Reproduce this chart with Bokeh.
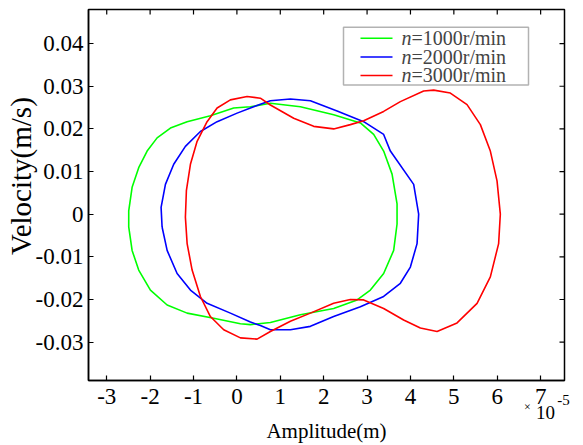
from bokeh.plotting import figure
from bokeh.models import Range1d, FixedTicker, BoxAnnotation, Label, Arrow, LinearAxis
from bokeh.embed import file_html
from bokeh.resources import INLINE

# ---- data: amplitude in units of 1e-5 m, velocity in m/s (closed loops, read clockwise) ----
amp_1000 = [-2.493, -2.493, -2.415, -2.263, -2.069, -1.839, -1.532, -1.147, -0.611, -0.074, 0.311, 0.772,
            1.463, 2.230, 2.846, 3.152, 3.382, 3.576, 3.691, 3.691, 3.613, 3.382, 3.076, 2.770, 2.230,
            1.463, 0.772, 0.311, 0.081, -0.535, -1.147, -1.608, -1.993, -2.263, -2.415]
vel_1000 = [-0.0030, 0.0008, 0.0063, 0.0109, 0.0148, 0.0179, 0.0202, 0.0217, 0.0231, 0.0249, 0.0252, 0.0260,
            0.0252, 0.0233, 0.0214, 0.0187, 0.0148, 0.0094, 0.0024, -0.0023, -0.0085, -0.0139, -0.0178,
            -0.0201, -0.0221, -0.0236, -0.0254, -0.0259, -0.0257, -0.0244, -0.0232, -0.0213, -0.0178,
            -0.0131, -0.0085]

amp_2000 = [-1.724, -1.747, -1.647, -1.456, -1.187, -0.841, -0.456, 0.005, 0.311, 0.541, 0.772, 1.233, 1.694,
            2.309, 2.922, 3.382, 3.537, 4.074, 4.189, 4.152, 3.998, 3.767, 3.382, 2.846, 2.230, 1.694,
            1.233, 0.772, 0.541, 0.311, -0.150, -0.687, -1.071, -1.378, -1.608]
vel_2000 = [-0.0030, 0.0016, 0.0070, 0.0117, 0.0159, 0.0194, 0.0217, 0.0237, 0.0249, 0.0258, 0.0266, 0.0270,
            0.0266, 0.0242, 0.0217, 0.0187, 0.0148, 0.0070, 0.0000, -0.0069, -0.0124, -0.0162, -0.0193,
            -0.0217, -0.0240, -0.0263, -0.0271, -0.0271, -0.0261, -0.0253, -0.0232, -0.0209, -0.0178,
            -0.0139, -0.0085]

amp_3000 = [-1.187, -1.164, -1.071, -0.917, -0.687, -0.456, -0.150, 0.235, 0.541, 0.772, 1.309, 1.770, 2.230,
            2.615, 2.922, 3.382, 3.767, 4.304, 4.535, 4.919, 5.304, 5.611, 5.841, 5.995, 6.071, 6.032,
            5.841, 5.535, 5.074, 4.613, 4.228, 3.843, 3.382, 2.922, 2.615, 2.230, 1.694, 1.233, 0.772,
            0.465, 0.081, -0.304, -0.611, -0.841, -1.032, -1.147]
vel_3000 = [-0.0007, 0.0055, 0.0117, 0.0171, 0.0217, 0.0249, 0.0268, 0.0276, 0.0272, 0.0256, 0.0225, 0.0206,
            0.0200, 0.0210, 0.0219, 0.0241, 0.0264, 0.0289, 0.0291, 0.0284, 0.0257, 0.0210, 0.0148, 0.0078,
            0.0000, -0.0069, -0.0147, -0.0209, -0.0255, -0.0275, -0.0267, -0.0248, -0.0221, -0.0201,
            -0.0200, -0.0209, -0.0232, -0.0251, -0.0275, -0.0293, -0.0290, -0.0271, -0.0240, -0.0193,
            -0.0131, -0.0069]

series_labels = ["=1000r/min", "=2000r/min", "=3000r/min"]
series_colors = ["#00ff00", "#0000ff", "#ff0000"]

x_ticks = [-3, -2, -1, 0, 1, 2, 3, 4, 5, 6, 7]
x_tick_labels = ["-3", "-2", "-1", "0", "1", "2", "3", "4", "5", "6", "7"]
y_ticks = [-0.03, -0.02, -0.01, 0.0, 0.01, 0.02, 0.03, 0.04]
y_tick_labels = ["-0.03", "-0.02", "-0.01", "0", "0.01", "0.02", "0.03", "0.04"]

FONT = "Liberation Serif"
X0, X1 = -3.42, 7.55
Y0, Y1 = -0.039, 0.048
W, H = 583, 445
FL, FR, FT, FB = 88, 564, 9, 383  # frame edges in pixels

p = figure(width=W, height=H, output_backend="svg", toolbar_location=None,
           x_range=Range1d(X0, X1), y_range=Range1d(Y0, Y1),
           min_border_left=FL, min_border_right=W - FR, min_border_top=FT, min_border_bottom=H - FB)
p.grid.visible = False
p.outline_line_color = "black"
p.outline_line_width = 1.5
p.background_fill_color = "white"
p.border_fill_color = "white"


def px_x(px):
    return X0 + (px - FL) / (FR - FL) * (X1 - X0)


def px_y(py):
    return Y1 - (py - FT) / (FB - FT) * (Y1 - Y0)


def style_axis(ax, size):
    ax.major_tick_in = 5
    ax.major_tick_out = 0
    ax.minor_tick_in = 0
    ax.minor_tick_out = 0
    ax.axis_line_color = "black"
    ax.axis_line_width = 1.5
    ax.major_tick_line_width = 1.2
    ax.major_label_text_font = FONT
    ax.major_label_text_font_size = size
    ax.major_label_text_color = "black"


xa = p.xaxis[0]
xa.ticker = FixedTicker(ticks=x_ticks)
xa.major_label_overrides = {t: l for t, l in zip(x_ticks, x_tick_labels)}
style_axis(xa, "23px")
xa.major_label_standoff = 8

ya = p.yaxis[0]
ya.ticker = FixedTicker(ticks=y_ticks)
ya.major_label_overrides = {t: l for t, l in zip(y_ticks, y_tick_labels)}
style_axis(ya, "23px")
ya.major_label_standoff = 5


def text_axis(side, pos, text, size, standoff, orientation="horizontal"):
    """A line-less, tick-less axis stacked outside the main one, used to place one text."""
    ax = LinearAxis(ticker=FixedTicker(ticks=[pos]), major_label_overrides={pos: text},
                    major_label_orientation=orientation)
    ax.axis_line_color = None
    ax.major_tick_line_color = None
    ax.minor_tick_line_color = None
    ax.major_tick_in = 0
    ax.major_tick_out = 0
    ax.minor_tick_in = 0
    ax.minor_tick_out = 0
    ax.major_label_standoff = standoff
    ax.major_label_text_font = FONT
    ax.major_label_text_font_size = size
    ax.major_label_text_color = "black"
    p.add_layout(ax, side)
    return ax


# y-axis title
text_axis("left", px_y(177), "Velocity(m/s)", "29px", -5, "parallel")
# exponent "x10^-5" under the right end of the x axis, then the x-axis title
text_axis("below", px_x(563), "-5", "15px", -12)
text_axis("below", px_x(527), "×", "12px", -8)
ax10 = text_axis("below", px_x(545), "10", "19px", -11)
ax10.axis_label = "Amplitude(m)"
ax10.axis_label_text_font = FONT
ax10.axis_label_text_font_size = "21px"
ax10.axis_label_text_font_style = "normal"
ax10.axis_label_text_color = "black"
ax10.axis_label_standoff = -3

# tick marks on the top and right frame edges (MATLAB "box on" style)
tick_dx = px_x(FL + 5) - px_x(FL)
tick_dy = px_y(FT) - px_y(FT + 5)
p.segment(x0=x_ticks, y0=[Y1] * len(x_ticks), x1=x_ticks, y1=[Y1 - tick_dy] * len(x_ticks),
          line_color="black", line_width=1.2)
p.segment(x0=[X1] * len(y_ticks), y0=y_ticks, x1=[X1 - tick_dx] * len(y_ticks), y1=y_ticks,
          line_color="black", line_width=1.2)

for xs, ys, c in zip([amp_1000, amp_2000, amp_3000], [vel_1000, vel_2000, vel_3000], series_colors):
    p.line(xs + xs[:1], ys + ys[:1], line_color=c, line_width=1.6)

# legend (built by hand so that "n" can be italic)
box = BoxAnnotation(left=px_x(343), right=px_x(528), top=px_y(27), bottom=px_y(85),
                    fill_color="white", fill_alpha=1.0, line_color="black", line_width=1.5,
                    level="overlay")
p.add_layout(box)
row_y = [38, 57, 75.5]
for name, c, ry in zip(series_labels, series_colors, row_y):
    p.add_layout(Arrow(end=None, x_start=px_x(360), y_start=px_y(ry), x_end=px_x(392), y_end=px_y(ry),
                       line_color=c, line_width=1.5, level="overlay"))
    p.add_layout(Label(x=px_x(401), y=px_y(ry), text="n", text_font=FONT, text_font_style="italic",
                       text_font_size="20px", text_baseline="middle", text_align="left", level="overlay"))
    p.add_layout(Label(x=px_x(411), y=px_y(ry), text=name, text_font=FONT,
                       text_font_size="20px", text_baseline="middle", text_align="left", level="overlay"))

open("out.html", "w").write(file_html(p, INLINE))
